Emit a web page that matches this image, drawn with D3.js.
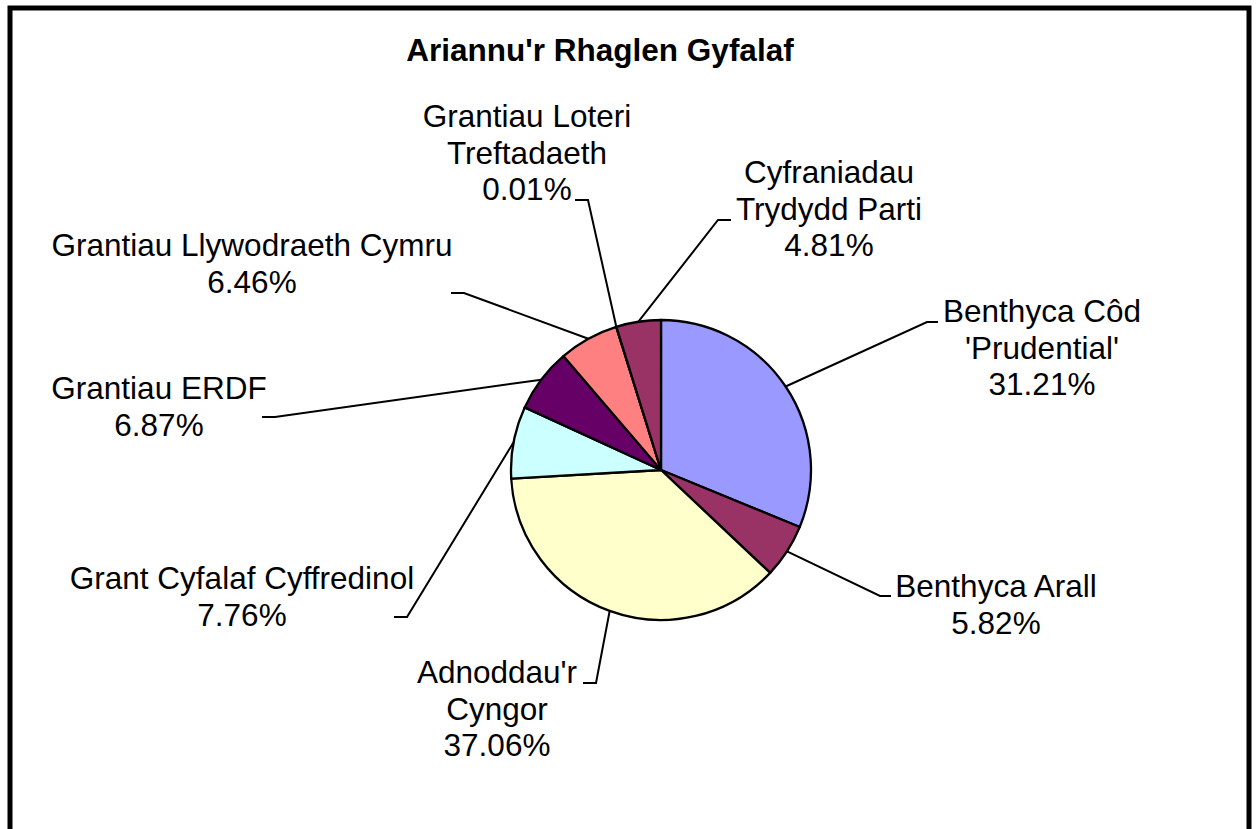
<!DOCTYPE html>
<html><head><meta charset="utf-8">
<script src="https://cdn.jsdelivr.net/npm/d3@7"></script>
<style>body{margin:0;background:#fff}svg{display:block}</style>
</head><body><svg id="c" width="1259" height="829"></svg>
<script>
// ---- data ----
const title = "Ariannu'r Rhaglen Gyfalaf";
const categories = ["Benthyca Côd 'Prudential'", "Benthyca Arall", "Adnoddau'r Cyngor", "Grant Cyfalaf Cyffredinol", "Grantiau ERDF", "Grantiau Llywodraeth Cymru", "Grantiau Loteri Treftadaeth", "Cyfraniadau Trydydd Parti"];
const values = [31.21, 5.82, 37.06, 7.76, 6.87, 6.46, 0.01, 4.81];
const labelLines = [["Benthyca Côd", "'Prudential'"], ["Benthyca Arall"], ["Adnoddau'r", "Cyngor"], ["Grant Cyfalaf Cyffredinol"], ["Grantiau ERDF"], ["Grantiau Llywodraeth Cymru"], ["Grantiau Loteri", "Treftadaeth"], ["Cyfraniadau", "Trydydd Parti"]];
const colors = ["#9999FF", "#993366", "#FFFFCC", "#CCFFFF", "#660066", "#FF8080", "#0066CC", "#993366"];

// ---- layout (label positions placed as in the original) ----
const labelPos = [[1042, 322], [996, 597], [497, 683], [242, 589], [159, 399], [252, 256], [527, 127], [829, 183]];
const elbowPos = [[927, 322], [880, 596], [596, 683], [407, 617], [275, 417], [464, 293], [588, 200], [718, 220]];
const tickEnd = [938, 891, 583, 394, 262, 451, 575, 731];

const W = 1259, H = 829;
const cx = 661, cy = 470, R = 150;
const font = "'Liberation Sans', Arial, sans-serif";
const fs = 31.5, lh = 36.5;

const svg = d3.select("#c");
svg.append("rect").attr("x", 10).attr("y", 8).attr("width", 1239).attr("height", 900)
  .attr("fill", "#fff").attr("stroke", "#000").attr("stroke-width", 5);

svg.append("text").attr("x", 600).attr("y", 61).attr("text-anchor", "middle")
  .attr("font-family", font).attr("font-weight", "bold").attr("font-size", fs).text(title);

const data = categories.map((c, i) => ({ c, v: values[i], i }));
const pie = d3.pie().value(d => d.v).sort(null);
const arcs = pie(data);
const arc = d3.arc().innerRadius(0).outerRadius(R);
const edge = d3.arc().innerRadius(R).outerRadius(R);

const g = svg.append("g").attr("transform", `translate(${cx},${cy})`);
g.selectAll("path").data(arcs).join("path")
  .attr("d", arc).attr("fill", d => colors[d.data.i])
  .attr("stroke", "#000").attr("stroke-width", 2.3).attr("stroke-linejoin", "round");

// leader lines
const lines = svg.append("g");
arcs.forEach(d => {
  const i = d.data.i;
  const [ex, ey] = edge.centroid(d);
  const p = d3.path();
  p.moveTo(cx + ex, cy + ey);
  p.lineTo(elbowPos[i][0], elbowPos[i][1]);
  p.lineTo(tickEnd[i], elbowPos[i][1]);
  lines.append("path").attr("d", p.toString()).attr("fill", "none")
    .attr("stroke", "#000").attr("stroke-width", 2);
});

// labels
const labels = svg.append("g").attr("font-family", font).attr("font-size", fs).attr("text-anchor", "middle");
arcs.forEach(d => {
  const i = d.data.i;
  const all = labelLines[i].concat([d.data.v.toFixed(2) + "%"]);
  const t = labels.append("text").attr("x", labelPos[i][0]).attr("y", labelPos[i][1]);
  all.forEach((s, k) => t.append("tspan").attr("x", labelPos[i][0]).attr("dy", k === 0 ? 0 : lh).text(s));
});
</script>
</body></html>
